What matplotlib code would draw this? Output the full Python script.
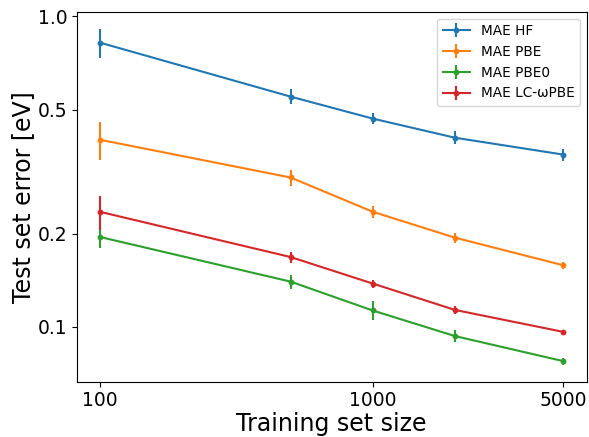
import matplotlib
matplotlib.use('Agg')
import matplotlib.pyplot as plt
from matplotlib.ticker import FixedLocator, FixedFormatter, NullLocator

train_sizes = [100, 500, 1000, 2000, 5000]

mae_hf = [0.824, 0.552, 0.469, 0.407, 0.359]
err_hf = [0.090, 0.030, 0.020, 0.020, 0.016]

mae_pbe = [0.401, 0.303, 0.235, 0.194, 0.158]
err_pbe = [0.055, 0.018, 0.010, 0.007, 0.004]

mae_pbe0 = [0.195, 0.140, 0.113, 0.0935, 0.0776]
err_pbe0 = [0.015, 0.007, 0.008, 0.004, 0.002]

mae_lc = [0.235, 0.168, 0.138, 0.1135, 0.0964]
err_lc = [0.030, 0.007, 0.004, 0.003, 0.001]

x_ticks = [100, 1000, 5000]
x_ticklabels = ['100', '1000', '5000']
y_ticks = [0.1, 0.2, 0.5, 1.0]
y_ticklabels = ['0.1', '0.2', '0.5', '1.0']

fig = plt.figure(figsize=(5.89, 4.37), dpi=100)
ax = fig.add_axes([0.130, 0.127, 0.866, 0.846])

series = [
    (mae_hf, err_hf, 'MAE HF'),
    (mae_pbe, err_pbe, 'MAE PBE'),
    (mae_pbe0, err_pbe0, 'MAE PBE0'),
    (mae_lc, err_lc, 'MAE LC-\u03c9PBE'),
]
for vals, errs, name in series:
    ax.errorbar(train_sizes, vals, yerr=errs, marker='o', markersize=3.2,
                linewidth=1.5, elinewidth=1.5, capsize=0, label=name)

ax.set_xscale('log')
ax.set_yscale('log')
ax.xaxis.set_major_locator(FixedLocator(x_ticks))
ax.xaxis.set_major_formatter(FixedFormatter(x_ticklabels))
ax.xaxis.set_minor_locator(NullLocator())
ax.yaxis.set_major_locator(FixedLocator(y_ticks))
ax.yaxis.set_major_formatter(FixedFormatter(y_ticklabels))
ax.yaxis.set_minor_locator(NullLocator())
ax.tick_params(labelsize=13.5, pad=3)

ax.set_xlabel('Training set size', fontsize=17, labelpad=2)
ax.set_ylabel('Test set error [eV]', fontsize=17, labelpad=2)
ax.legend(loc='upper right', fontsize=9.8)

fig.savefig('out.png', dpi=100)
